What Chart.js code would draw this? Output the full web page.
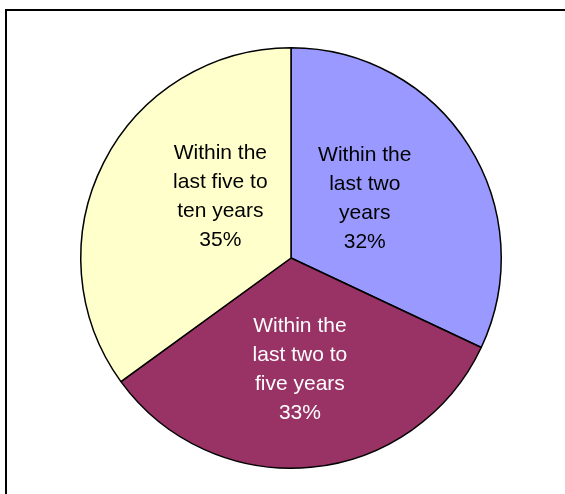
<!DOCTYPE html>
<html>
<head>
<meta charset="utf-8">
<script src="https://cdn.jsdelivr.net/npm/chart.js@4.4.1/dist/chart.umd.min.js"></script>
<style>
  html, body { margin: 0; padding: 0; background: #fff; overflow: hidden; }
  #wrap { position: relative; width: 565px; height: 494px; }
  #frame {
    position: absolute; left: 5px; top: 9px; width: 600px; height: 600px;
    border: 2px solid #000; box-sizing: border-box;
  }
  canvas { position: absolute; left: 0; top: 0; }
</style>
</head>
<body>
<div id="wrap">
  <div id="frame"></div>
  <canvas id="pieChart" width="565" height="494"></canvas>
</div>
<script>
// Share of responses by time period
const categories = [
  ['Within the', 'last two', 'years'],
  ['Within the', 'last two to', 'five years'],
  ['Within the', 'last five to', 'ten years']
];
const shares = [32, 33, 35];
const sliceColors = ['#9999FF', '#993366', '#FFFFCC'];
const labelColors = ['#000000', '#FFFFFF', '#000000'];

// Draws the multi-line category + percent labels inside each slice
const sliceLabels = {
  id: 'sliceLabels',
  afterDatasetsDraw(chart, args, opts) {
    const ctx = chart.ctx;
    const meta = chart.getDatasetMeta(0);
    ctx.save();
    ctx.font = '21px "Liberation Sans", Arial, sans-serif';
    ctx.textAlign = 'center';
    ctx.textBaseline = 'middle';
    meta.data.forEach((arc, i) => {
      const p = arc.getProps(['x', 'y', 'startAngle', 'endAngle', 'outerRadius'], true);
      const mid = (p.startAngle + p.endAngle) / 2;
      const r = p.outerRadius * opts.radiusFactor[i];
      const cx = p.x + Math.cos(mid) * r + opts.nudge[i][0];
      const cy = p.y + Math.sin(mid) * r + opts.nudge[i][1];
      const lines = categories[i].concat([shares[i] + '%']);
      const lh = 29;
      ctx.fillStyle = labelColors[i];
      lines.forEach((t, k) => {
        ctx.fillText(t, cx, cy + (k - (lines.length - 1) / 2) * lh);
      });
    });
    ctx.restore();
  }
};

const ctx = document.getElementById('pieChart').getContext('2d');
const chart = new Chart(ctx, {
  type: 'pie',
  data: {
    labels: categories.map(c => c.join(' ')),
    datasets: [{
      data: shares,
      backgroundColor: sliceColors,
      borderColor: '#000000',
      borderWidth: 1.5
    }]
  },
  options: {
    responsive: false,
    animation: false,
    layout: { padding: { left: 80, top: 47, right: 63, bottom: 25 } },
    plugins: {
      legend: { display: false },
      tooltip: { enabled: false },
      sliceLabels: {
        radiusFactor: [0.5, 0.5, 0.5],
        nudge: [[-15, -3], [-1, 7], [23, -14]]
      }
    }
  },
  plugins: [sliceLabels]
});
</script>
</body>
</html>
